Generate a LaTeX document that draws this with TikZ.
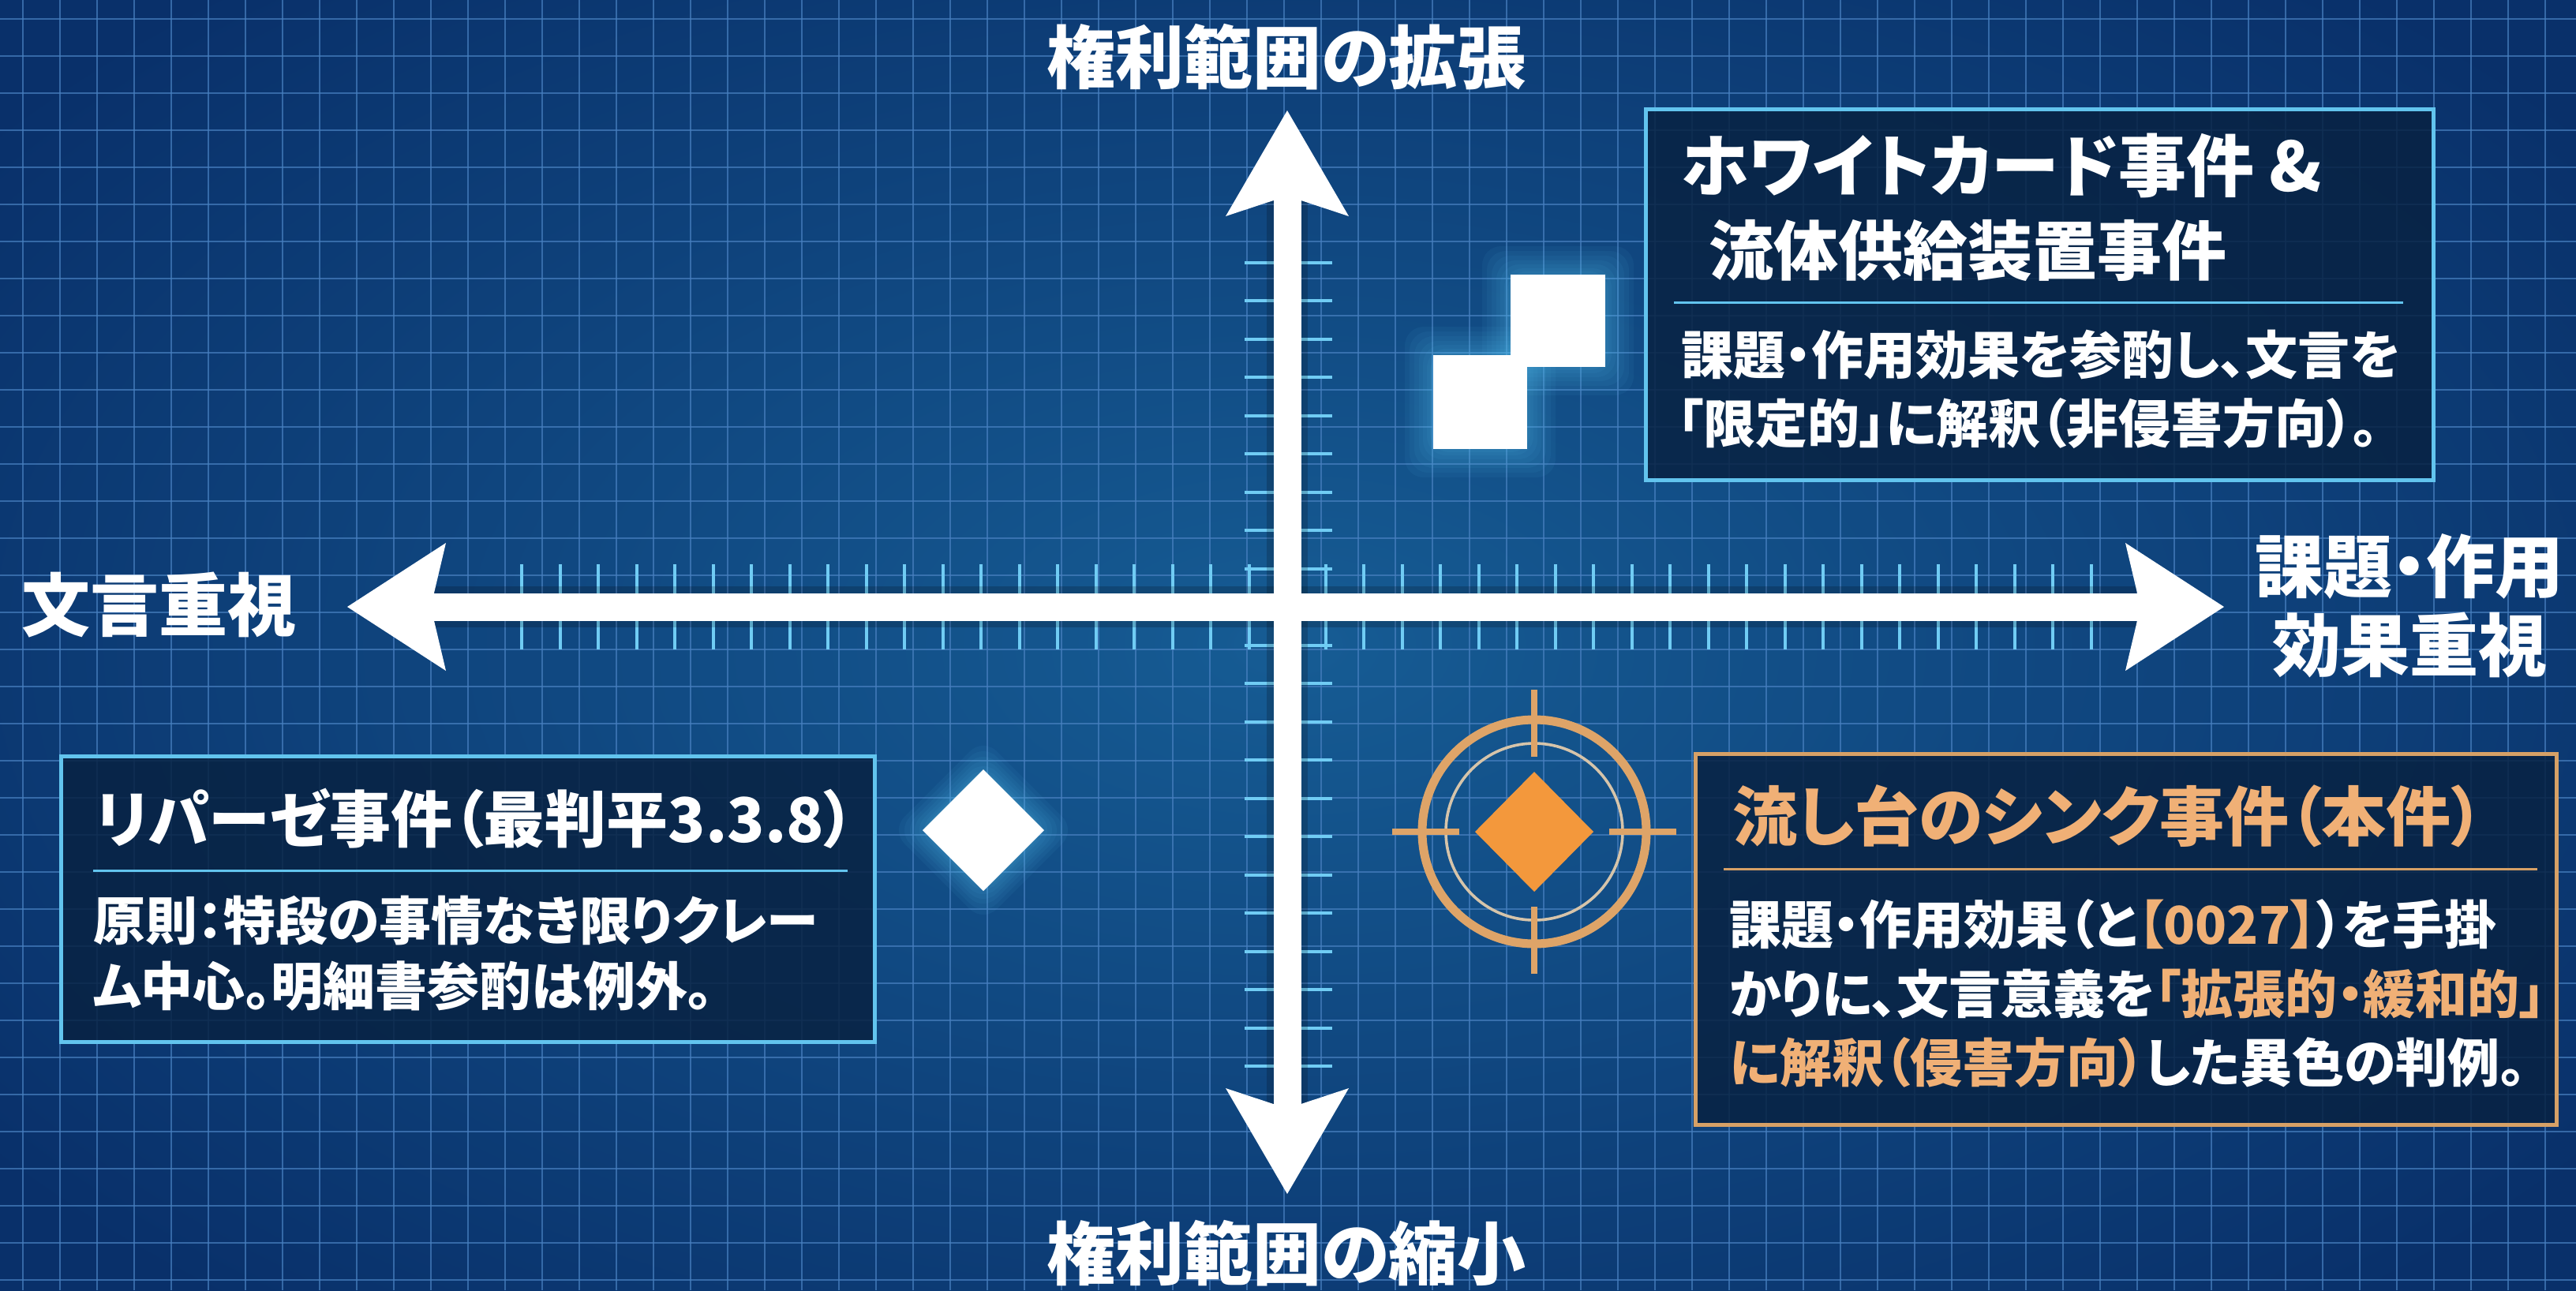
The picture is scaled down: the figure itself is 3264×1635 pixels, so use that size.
\documentclass[tikz,border=0pt]{standalone}
\usepackage{fontspec}
\setmainfont{Noto Sans CJK JP}[RawFeature=+palt]
\usetikzlibrary{calc}
\definecolor{bgin}{RGB}{22,92,148}
\definecolor{bgout}{RGB}{9,48,106}
\definecolor{gridc}{RGB}{72,128,192}
\definecolor{tickc}{RGB}{112,204,244}
\definecolor{cyanb}{RGB}{98,196,238}
\definecolor{boxfill}{RGB}{8,34,66}
\definecolor{tanb}{RGB}{214,160,102}
\definecolor{tant}{RGB}{240,176,118}
\definecolor{tanring}{RGB}{222,164,104}
\definecolor{tanthin}{RGB}{214,196,170}
\definecolor{orangeD}{RGB}{243,152,60}
\definecolor{glowc}{RGB}{90,200,245}
\tikzset{
  gridline/.style={draw=gridc, line width=1pt, opacity=0.7},
  tickline/.style={draw=tickc, line width=2pt},
  axisbar/.style={draw=white, line width=17.5pt},
  axisshadow/.style={draw=black, line width=26pt, opacity=0.18},
  axishead/.style={fill=white},
  axislbl/.style={inner sep=0pt, text=white, font=\bfseries\fontsize{43.5}{50}\selectfont},
  boxtitle/.style={inner sep=0pt, anchor=west, text=white, font=\bfseries\fontsize{41}{48}\selectfont},
  boxbody/.style={inner sep=0pt, anchor=west, text=white, font=\bfseries\fontsize{33}{40}\selectfont},
  cyanbox/.style={draw=cyanb, line width=2.5pt, fill=boxfill, fill opacity=0.85},
  tanbox/.style={draw=tanb, line width=2.5pt, fill=boxfill, fill opacity=0.85},
  cyansep/.style={draw=cyanb, line width=1.5pt},
  tansep/.style={draw=tanb, line width=1.5pt},
  glow/.style={fill=glowc, opacity=0.06, rounded corners=12pt},
  marker/.style={fill=white},
  ring/.style={draw=tanring, line width=5.5pt},
  thinring/.style={draw=tanthin, line width=1.8pt},
  cross/.style={draw=tanring, line width=4pt},
}
\begin{document}
\begin{tikzpicture}[x=0.5pt,y=-0.5pt]
\useasboundingbox (0,0) rectangle (3264,1635);
% background
\shade[inner color=bgin, outer color=bgout] (-400,-300) rectangle (3664,1935);
% grid
\foreach \x in {29,76,...,3264} \draw[gridline] (\x,0) -- (\x,1635);
\foreach \y in {24,71,...,1635} \draw[gridline] (0,\y) -- (3264,\y);

% axis end points
\coordinate (O) at (1631,769);
\coordinate (L) at (440,769);
\coordinate (R) at (2818,769);
\coordinate (T) at (1631,140);
\coordinate (B) at (1631,1513);

% ticks
\foreach \k in {-20,...,21} {
  \pgfmathsetmacro\xx{1631+48.5*\k}
  \draw[tickline] (\xx,715) -- (\xx,823);
}
\foreach \k in {-9,...,-1,1,2,...,12} {
  \pgfmathsetmacro\yy{769+48.5*\k}
  \draw[tickline] (1577,\yy) -- (1688,\yy);
}

% axes shadows
\draw[axisshadow] ($(L)+(110,0)$) -- ($(R)+(-110,0)$);
\draw[axisshadow] ($(T)+(0,114)$) -- ($(B)+(0,-114)$);
% axes
\draw[axisbar] ($(L)+(110,0)$) -- ($(R)+(-110,0)$);
\draw[axisbar] ($(T)+(0,114)$) -- ($(B)+(0,-114)$);
\fill[axishead] (L) -- ++(125,-81) -- ++(-15,63.5) -- ++(0,35) -- ++(15,63.5) -- cycle;
\fill[axishead] (R) -- ++(-125,-81) -- ++(15,63.5) -- ++(0,35) -- ++(-15,63.5) -- cycle;
\fill[axishead] (T) -- ++(-78,134) -- ++(60.5,-20) -- ++(35,0) -- ++(60.5,20) -- cycle;
\fill[axishead] (B) -- ++(-78,-134) -- ++(60.5,20) -- ++(35,0) -- ++(60.5,-20) -- cycle;

% axis labels
\node[axislbl] (tlabel) at (1630,72) {権利範囲の拡張};
\node[axislbl] (blabel) at (1630,1588) {権利範囲の縮小};
\node[axislbl, anchor=west] (llabel) at (27,767) {文言重視};
\node[axislbl, align=center] (rlabel) at (3053,768) {課題・作用\\効果重視};

% white squares with glow
\foreach \g in {36,30,24,18,13,8,4} {
  \fill[glow] (1816-\g,450-\g) rectangle (1935+\g,569+\g);
  \fill[glow] (1914-\g,348-\g) rectangle (2034+\g,465+\g);
}
\fill[marker] (1816,450) rectangle (1935,569);
\fill[marker] (1914,348) rectangle (2034,465);

% white diamond with glow
\foreach \g in {40,33,26,20,14,8,4} {
  \fill[glow] (1246,975-\g) -- (1323+\g,1052) -- (1246,1129+\g) -- (1169-\g,1052) -- cycle;
}
\fill[marker] (1246,975) -- (1323,1052) -- (1246,1129) -- (1169,1052) -- cycle;

% orange target
\coordinate (C) at (1944,1054);
\draw[ring] (C) circle (71pt);
\draw[thinring] (C) circle (56pt);
\draw[cross] ($(C)+(0,-180)$) -- ($(C)+(0,-95)$);
\draw[cross] ($(C)+(0,180)$) -- ($(C)+(0,95)$);
\draw[cross] ($(C)+(-180,0)$) -- ($(C)+(-95,0)$);
\draw[cross] ($(C)+(180,0)$) -- ($(C)+(95,0)$);
\fill[orangeD] (1944,978) -- (2019,1054) -- (1944,1130) -- (1869,1054) -- cycle;

% top-right box
\draw[cyanbox] (2085,138) rectangle (3083,608);
\node[boxtitle, font=\bfseries\fontsize{43}{48}\selectfont] (trt1) at (2130,210) {ホワイトカード事件 \&};
\node[boxtitle] (trt2) at (2165,317) {流体供給装置事件};
\draw[cyansep] (2121,383) -- (3045,383);
\node[boxbody] (trb1) at (2130,450) {課題・作用効果を参酌し、文言を};
\node[boxbody] (trb2) at (2125,537) {「限定的」に解釈（非侵害方向）。};

% left box
\draw[cyanbox] (77,958) rectangle (1108,1320);
\node[boxtitle, font=\bfseries\fontsize{39}{46}\selectfont] (lt) at (121,1037) {リパーゼ事件（最判平3.3.8）};
\draw[cyansep] (118,1103) -- (1074,1103);
\node[boxbody] (lb1) at (118,1166) {原則：特段の事情なき限りクレー};
\node[boxbody] (lb2) at (118,1250) {ム中心。明細書参酌は例外。};

% bottom-right box
\draw[tanbox] (2148,955) rectangle (3239,1425);
\node[boxtitle, text=tant] (rt) at (2195,1034) {流し台のシンク事件（本件）};
\draw[tansep] (2184,1101) -- (3215,1101);
\node[boxbody] (rb1) at (2191,1171) {課題・作用効果（と\textcolor{tant}{【0027】}）を手掛};
\node[boxbody] (rb2) at (2191,1259) {かりに、文言意義を\textcolor{tant}{「拡張的・緩和的」}};
\node[boxbody] (rb3) at (2191,1346) {\textcolor{tant}{に解釈（侵害方向）}した異色の判例。};
\end{tikzpicture}
\end{document}
